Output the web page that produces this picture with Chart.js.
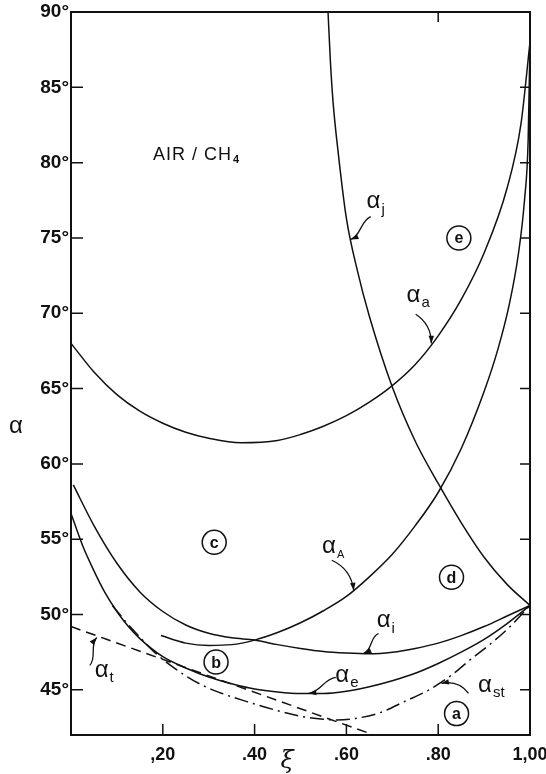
<!DOCTYPE html>
<html>
<head>
<meta charset="utf-8">
<title>AIR/CH4</title>
<script src="https://cdn.jsdelivr.net/npm/chart.js@4.4.1/dist/chart.umd.min.js"></script>
<style>
  body { margin: 0; background: #fff; }
  canvas { display: block; }
</style>
</head>
<body>
<canvas id="chart" width="546" height="774"></canvas>
<script>
// axis ticks
const xiTicks = [0.2, 0.4, 0.6, 0.8, 1.0];
const xiTickLabels = [',20', '.40', '.60', '.80', '1,00'];
const alphaTicks = [45, 50, 55, 60, 65, 70, 75, 80, 85, 90];

// alpha_a (upper U curve)
const xi_a = [0, 0.05, 0.1, 0.15, 0.2, 0.25, 0.3, 0.37, 0.45, 0.5, 0.55, 0.6, 0.65, 0.7, 0.75, 0.8, 0.85, 0.9, 0.95, 0.98, 1.0];
const alpha_a = [68.0, 66.1, 64.6, 63.5, 62.7, 62.1, 61.7, 61.4, 61.55, 61.95, 62.5, 63.2, 64.1, 65.2, 66.6, 68.5, 70.9, 74.0, 78.3, 82.5, 88.0];

// alpha_j
const xi_j = [0.56, 0.565, 0.571, 0.582, 0.6, 0.625, 0.65, 0.7, 0.75, 0.8, 0.85, 0.9, 0.95, 1.0];
const alpha_j = [90, 86.8, 84.0, 80.7, 76.3, 72.7, 69.8, 65.1, 61.5, 58.7, 56.1, 53.8, 52.0, 50.6];

// alpha_A
const xi_A = [0.196, 0.25, 0.3, 0.35, 0.4, 0.45, 0.5, 0.55, 0.6, 0.65, 0.7, 0.75, 0.8, 0.85, 0.9, 0.93, 0.955, 0.975, 0.988, 0.996, 1.0];
const alpha_A = [48.6, 48.1, 47.95, 48.0, 48.3, 48.8, 49.45, 50.25, 51.2, 52.5, 54.0, 55.9, 58.1, 61.0, 64.8, 67.6, 70.6, 74.0, 77.5, 81.5, 88.0];

// alpha_i
const xi_i = [0.005, 0.05, 0.1, 0.15, 0.2, 0.25, 0.3, 0.35, 0.4, 0.45, 0.5, 0.55, 0.6, 0.65, 0.7, 0.75, 0.8, 0.85, 0.9, 0.95, 1.0];
const alpha_i = [58.6, 55.9, 53.4, 51.5, 50.2, 49.3, 48.75, 48.45, 48.3, 48.0, 47.75, 47.55, 47.45, 47.4, 47.5, 47.75, 48.1, 48.6, 49.2, 49.9, 50.6];

// alpha_e
const xi_e = [0, 0.025, 0.05, 0.075, 0.1, 0.125, 0.15, 0.2, 0.25, 0.3, 0.35, 0.4, 0.45, 0.5, 0.55, 0.6, 0.65, 0.7, 0.75, 0.8, 0.85, 0.9, 0.95, 1.0];
const alpha_e = [56.7, 54.6, 52.9, 51.4, 50.2, 49.2, 48.4, 47.2, 46.45, 45.85, 45.4, 45.05, 44.85, 44.75, 44.75, 44.9, 45.2, 45.6, 46.1, 46.75, 47.5, 48.35, 49.4, 50.6];

// alpha_st (dash-dot)
const xi_st = [0.09, 0.12, 0.15, 0.18, 0.22, 0.28, 0.33, 0.385, 0.44, 0.5, 0.55, 0.58, 0.62, 0.675, 0.725, 0.78, 0.83, 0.87, 0.92, 0.96, 1.0];
const alpha_st = [50.6, 49.5, 48.5, 47.55, 46.55, 45.4, 44.75, 44.2, 43.7, 43.25, 43.05, 43.0, 43.1, 43.5, 44.2, 45.0, 46.0, 47.0, 48.2, 49.3, 50.6];

// alpha_t (dashed straight line)
const xi_t = [0, 0.66];
const alpha_t = [49.2, 42.0];

const ink = '#111';

// curve labels: alpha + subscript, with the little arrow pointing onto the curve
const curveLabels = [
    { sub: 'j',  at: [0.659, 77.4],  from: [0.653, 76.42], to: [0.610, 74.9],  bend: 5,  squiggle: true },
    { sub: 'a',  at: [0.746, 71.2],  from: [0.751, 69.93], to: [0.785, 68.0],  bend: -6, squiggle: false },
    { sub: 'A',  at: [0.562, 54.5],  from: [0.568, 53.6],  to: [0.616, 51.6],  bend: -7, squiggle: false },
    { sub: 'i',  at: [0.681, 49.6],  from: [0.670, 48.74], to: [0.638, 47.42], bend: 5,  squiggle: true },
    { sub: 'e',  at: [0.591, 45.96], from: [0.577, 45.83], to: [0.518, 44.77], bend: 5,  squiggle: true },
    { sub: 'st', at: [0.902, 45.3],  from: [0.866, 44.77], to: [0.807, 45.43], bend: 6,  squiggle: false },
    { sub: 't',  at: [0.0667, 46.3], from: [0.041, 46.62], to: [0.056, 48.47], bend: 5,  squiggle: true }
];

// circled region markers
const regions = [
    { text: 'a', at: [0.840, 43.42] },
    { text: 'b', at: [0.316, 46.84] },
    { text: 'c', at: [0.312, 54.79] },
    { text: 'd', at: [0.829, 52.47] },
    { text: 'e', at: [0.845, 75.0] }
];

function toPoints(xs, ys) {
    return xs.map((x, i) => ({ x: x, y: ys[i] }));
}

function curve(xs, ys, dash) {
    return {
        data: toPoints(xs, ys),
        showLine: true,
        borderColor: ink,
        borderWidth: 1.5,
        borderDash: dash || [],
        pointRadius: 0,
        cubicInterpolationMode: 'monotone'
    };
}

function drawArrow(ctx, x0, y0, x1, y1, bend, squiggle) {
    const dx = x1 - x0, dy = y1 - y0;
    const len = Math.hypot(dx, dy);
    const nx = -dy / len, ny = dx / len;
    const s = squiggle ? -1 : 1;
    const c1x = x0 + dx * 0.33 + nx * bend, c1y = y0 + dy * 0.33 + ny * bend;
    const c2x = x0 + dx * 0.66 + nx * bend * s, c2y = y0 + dy * 0.66 + ny * bend * s;
    ctx.beginPath();
    ctx.moveTo(x0, y0);
    ctx.bezierCurveTo(c1x, c1y, c2x, c2y, x1, y1);
    ctx.stroke();
    const ang = Math.atan2(y1 - c2y, x1 - c2x);
    ctx.beginPath();
    ctx.moveTo(x1, y1);
    ctx.lineTo(x1 - 8 * Math.cos(ang - 0.35), y1 - 8 * Math.sin(ang - 0.35));
    ctx.lineTo(x1 - 8 * Math.cos(ang + 0.35), y1 - 8 * Math.sin(ang + 0.35));
    ctx.closePath();
    ctx.fill();
}

// frame, inward ticks and all the hand lettering
const decorations = {
    id: 'decorations',
    afterDatasetsDraw(chart) {
        const { ctx, chartArea: a, scales: { x, y } } = chart;
        const px = v => x.getPixelForValue(v);
        const py = v => y.getPixelForValue(v);

        ctx.save();
        ctx.strokeStyle = ink;
        ctx.fillStyle = ink;

        ctx.lineWidth = 2;
        ctx.strokeRect(a.left, a.top, a.right - a.left, a.bottom - a.top);

        ctx.lineWidth = 1.5;
        ctx.beginPath();
        alphaTicks.slice(0, -1).forEach(v => {
            ctx.moveTo(a.left, py(v)); ctx.lineTo(a.left + 12, py(v));
            ctx.moveTo(a.right, py(v)); ctx.lineTo(a.right - 10, py(v));
        });
        xiTicks.slice(0, -1).forEach(v => {
            ctx.moveTo(px(v), a.bottom); ctx.lineTo(px(v), a.bottom - 11);
        });
        ctx.moveTo(px(0.8), a.top); ctx.lineTo(px(0.8), a.top + 10);
        ctx.stroke();

        // curve names with arrows
        curveLabels.forEach(l => {
            const lx = px(l.at[0]), ly = py(l.at[1]);
            ctx.textAlign = 'center';
            ctx.textBaseline = 'middle';
            ctx.font = '24px "Liberation Sans", sans-serif';
            ctx.fillText('α', lx, ly);
            ctx.textAlign = 'left';
            ctx.font = (l.sub === 'A' ? '11px' : '15px') + ' "Liberation Sans", sans-serif';
            ctx.fillText(l.sub, lx + 8, ly + 8);
            ctx.lineWidth = 1.3;
            drawArrow(ctx, px(l.from[0]), py(l.from[1]), px(l.to[0]), py(l.to[1]), l.bend, l.squiggle);
        });

        // circled region letters
        regions.forEach(r => {
            const cx = px(r.at[0]), cy = py(r.at[1]);
            ctx.lineWidth = 1.5;
            ctx.beginPath();
            ctx.arc(cx, cy, 12, 0, Math.PI * 2);
            ctx.stroke();
            ctx.font = 'bold 16px "Liberation Sans", sans-serif';
            ctx.textAlign = 'center';
            ctx.textBaseline = 'middle';
            ctx.fillText(r.text, cx, cy + 1);
        });

        // mixture name
        ctx.textAlign = 'left';
        ctx.textBaseline = 'alphabetic';
        ctx.font = '18px "Liberation Sans", sans-serif';
        ctx.letterSpacing = '1px';
        ctx.fillText('AIR / CH', 153, 160);
        const w = ctx.measureText('AIR / CH').width;
        ctx.letterSpacing = '0px';
        ctx.font = 'bold 11px "Liberation Sans", sans-serif';
        ctx.fillText('4', 153 + w + 1, 163);

        // axis titles
        ctx.font = '24px "Liberation Sans", sans-serif';
        ctx.textAlign = 'center';
        ctx.textBaseline = 'middle';
        ctx.fillText('α', 16, 426);
        ctx.font = 'italic 24px "DejaVu Serif", serif';
        ctx.fillText('ξ', 287, 762);

        ctx.restore();
    }
};

document.addEventListener('DOMContentLoaded', function() {
    const tickFont = { family: '"Liberation Sans", sans-serif', size: 19, weight: 'bold' };

    new Chart(document.getElementById('chart'), {
        type: 'scatter',
        data: {
            datasets: [
                curve(xi_a, alpha_a),
                curve(xi_j, alpha_j),
                curve(xi_A, alpha_A),
                curve(xi_i, alpha_i),
                curve(xi_e, alpha_e),
                curve(xi_st, alpha_st, [14, 5, 2, 5]),
                curve(xi_t, alpha_t, [10, 6])
            ]
        },
        options: {
            responsive: false,
            animation: false,
            layout: { padding: { top: 12, right: 16, left: 0, bottom: 0 } },
            plugins: {
                legend: { display: false },
                tooltip: { enabled: false }
            },
            scales: {
                x: {
                    type: 'linear',
                    min: 0,
                    max: 1,
                    afterBuildTicks: s => { s.ticks = xiTicks.map(v => ({ value: v })); },
                    afterFit: s => {
                        s.height = 39;
                        s.paddingLeft = s.paddingRight = 0;
                    },
                    ticks: {
                        callback: (v, i) => xiTickLabels[i],
                        font: { family: '"Liberation Sans", sans-serif', size: 18, weight: 'bold' },
                        color: ink,
                        padding: 9,
                        maxRotation: 0,
                        autoSkip: false
                    },
                    grid: { display: false, drawTicks: false },
                    border: { display: false }
                },
                y: {
                    min: 42,
                    max: 90,
                    afterBuildTicks: s => { s.ticks = alphaTicks.map(v => ({ value: v })); },
                    afterFit: s => {
                        s.width = 71;
                        s.paddingTop = s.paddingBottom = 0;
                    },
                    ticks: {
                        callback: v => v + '°',
                        font: tickFont,
                        color: ink,
                        padding: 2
                    },
                    grid: { display: false, drawTicks: false },
                    border: { display: false }
                }
            }
        },
        plugins: [decorations]
    });
});
</script>
</body>
</html>
